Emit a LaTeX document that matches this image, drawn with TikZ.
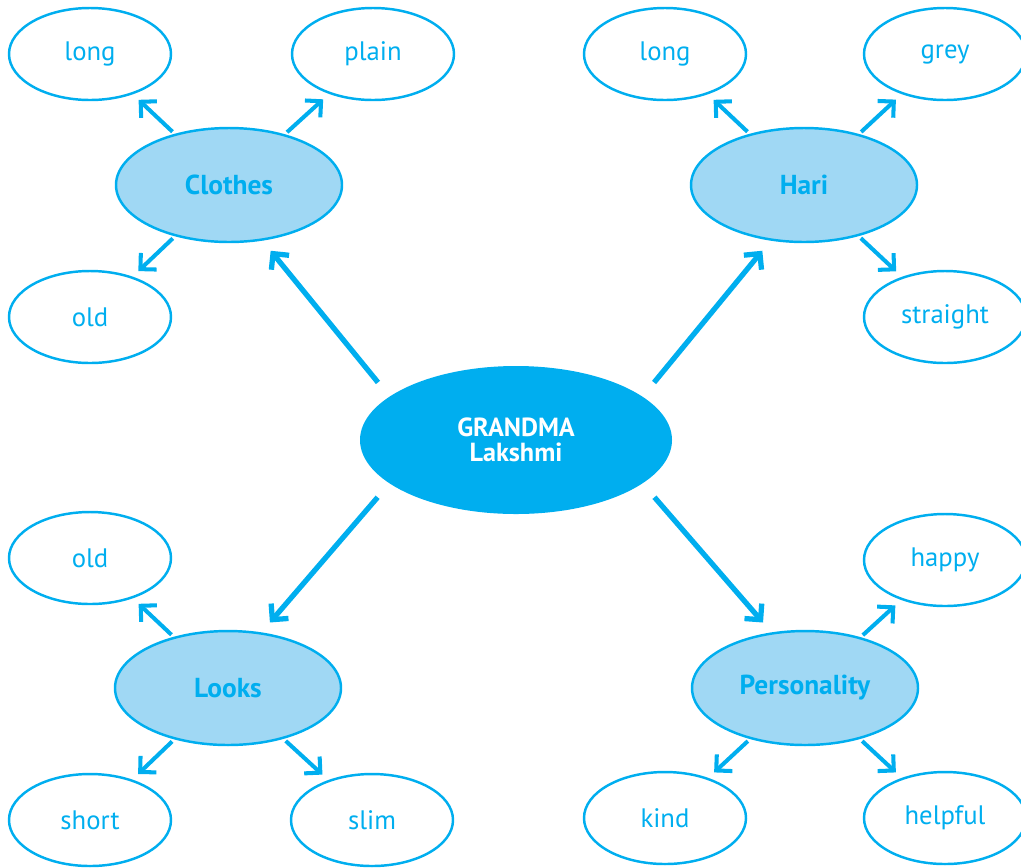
\documentclass[tikz,border=0pt]{standalone}
\usepackage{fontspec}
\setmainfont{PT Sans}
\usetikzlibrary{shapes.geometric, arrows.meta}
\definecolor{mapblue}{RGB}{0,174,239}
\definecolor{mapfill}{RGB}{160,216,244}
\tikzstyle{leaf} = [ellipse, 
minimum width=3.24cm, 
minimum height=1.84cm,
inner sep=0pt,
text centered, 
line width=1.4pt,
draw=mapblue, text=mapblue,
font=\fontsize{15.2}{16}\selectfont]
\tikzstyle{branch} = [leaf, fill=mapfill,
minimum width=4.52cm,
minimum height=2.28cm,
font=\fontsize{15.6}{16}\selectfont\bfseries]
\tikzstyle{root} = [ellipse, fill=mapblue, text=white,
minimum width=6.24cm,
minimum height=2.96cm,
align=center,
font=\fontsize{14.9}{14.5}\selectfont\bfseries]
\tikzstyle{arrow} = [line width=2.3pt, draw=mapblue, ->, >={Straight Barb[length=6.5pt,width=13pt]},
shorten <=0.06cm, shorten >=0.16cm]
\tikzstyle{bigarrow} = [arrow, line width=3pt, shorten <=0.36cm, shorten >=0.26cm]

\begin{document}
\begin{tikzpicture}
\useasboundingbox (0,0) rectangle (20.42,-17.34);
\node (gm) [root] at (10.32,-8.80) {GRANDMA\\Lakshmi};
%four branches
\node (clothes) [branch] at (4.58,-3.70) {Clothes};
\node (hari) [branch] at (16.08,-3.70) {Hari};
\node (looks) [branch] at (4.56,-13.76) {Looks};
\node (pers) [branch] at (16.10,-13.76) {Personality};
%leaves
\node (clong) [leaf] at (1.80,-1.08) {long};
\node (plain) [leaf] at (7.46,-1.08) {plain};
\node (cold) [leaf] at (1.80,-6.34) {old};
\node (hlong) [leaf] at (13.30,-1.08) {long};
\node (grey) [leaf] at (18.90,-1.08) {grey};
\node (straight) [leaf] at (18.90,-6.34) {straight};
\node (lold) [leaf] at (1.80,-11.16) {old};
\node (short) [leaf] at (1.80,-16.40) {short};
\node (slim) [leaf] at (7.44,-16.40) {slim};
\node (happy) [leaf] at (18.90,-11.20) {happy};
\node (kind) [leaf] at (13.30,-16.36) {kind};
\node (helpful) [leaf] at (18.90,-16.36) {helpful};

\draw [bigarrow] (gm.161) -- (clothes.-59);
\draw [bigarrow] (gm.19) -- (hari.-121);
\draw [bigarrow] (gm.-161) -- (looks.59);
\draw [bigarrow] (gm.-19) -- (pers.121);

\draw [arrow] (clothes) -- (clong);
\draw [arrow] (clothes) -- (plain);
\draw [arrow] (clothes) -- (cold);
\draw [arrow] (hari) -- (hlong);
\draw [arrow] (hari) -- (grey);
\draw [arrow] (hari) -- (straight);
\draw [arrow] (looks) -- (lold);
\draw [arrow] (looks) -- (short);
\draw [arrow] (looks) -- (slim);
\draw [arrow] (pers) -- (happy);
\draw [arrow] (pers) -- (kind);
\draw [arrow] (pers) -- (helpful);
\end{tikzpicture}
\end{document}
